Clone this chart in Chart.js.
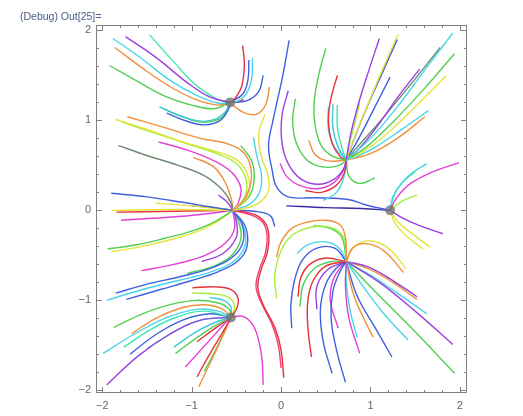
<!DOCTYPE html>
<html>
<head>
<meta charset="utf-8">
<script src="https://cdn.jsdelivr.net/npm/chart.js@4/dist/chart.umd.min.js"></script>
<style>
  html, body { margin: 0; padding: 0; background: #fff; }
  #wrap { width: 523px; height: 416px; }
</style>
</head>
<body>
<div id="wrap"><canvas id="myChart1"></canvas></div>
<script>
// stream lines, grouped by the point they run into
const toA = [
    [[-1.74,1.93],[-1.40,1.70],[-1.05,1.42],[-0.80,1.26],[-0.57,1.20]],
    [[-1.47,1.95],[-1.20,1.65],[-0.95,1.39],[-0.72,1.24],[-0.57,1.20]],
    [[-1.88,1.91],[-1.55,1.68],[-1.25,1.45],[-0.95,1.28],[-0.70,1.19],[-0.57,1.20]],
    [[-1.86,1.81],[-1.55,1.58],[-1.25,1.38],[-0.95,1.23],[-0.70,1.17],[-0.57,1.20]],
    [[-1.92,1.61],[-1.60,1.43],[-1.30,1.27],[-1.00,1.17],[-0.75,1.13],[-0.57,1.20]],
    [[-1.36,1.15],[-1.15,1.06],[-0.90,0.99],[-0.72,1.02],[-0.62,1.10],[-0.57,1.20]],
    [[-1.28,1.08],[-1.05,0.99],[-0.85,0.95],[-0.68,1.00],[-0.59,1.12],[-0.57,1.20]],
    [[-1.32,1.13],[-1.10,1.04],[-0.88,0.98],[-0.70,1.01],[-0.60,1.11],[-0.57,1.20]],
    [[-0.43,1.83],[-0.41,1.62],[-0.44,1.38],[-0.51,1.25],[-0.57,1.20]],
    [[-0.32,1.69],[-0.33,1.45],[-0.40,1.28],[-0.50,1.21],[-0.57,1.20]],
    [[-0.36,1.67],[-0.37,1.45],[-0.43,1.29],[-0.57,1.20]],
    [[-0.20,1.50],[-0.25,1.32],[-0.38,1.22],[-0.57,1.20]],
    [[-0.13,1.37],[-0.17,1.18],[-0.27,1.07],[-0.40,1.08],[-0.50,1.14],[-0.57,1.20]],
    [[-0.42,1.23],[-0.50,1.20],[-0.57,1.20]]
];
const toAColors = ['purple','aqua','cyan','orange','green','teal','blue','green',
    'red','cyan','blue','blue','orange','red'];

const toB = [
    [[1.10,1.91],[0.98,1.55],[0.87,1.20],[0.78,0.85],[0.73,0.56]],
    [[1.31,1.96],[1.15,1.60],[0.98,1.20],[0.83,0.83],[0.73,0.56]],
    [[1.30,1.90],[1.12,1.50],[0.95,1.12],[0.82,0.80],[0.73,0.56]],
    [[1.92,1.97],[1.60,1.55],[1.30,1.15],[1.00,0.80],[0.73,0.56]],
    [[1.94,1.74],[1.60,1.35],[1.25,0.98],[0.95,0.70],[0.73,0.56]],
    [[1.55,1.57],[1.30,1.25],[1.05,0.90],[0.85,0.66],[0.73,0.56]],
    [[1.78,1.81],[1.45,1.40],[1.10,0.98],[0.85,0.70],[0.73,0.56]],
    [[1.85,1.50],[1.50,1.15],[1.15,0.82],[0.90,0.64],[0.73,0.56]],
    [[1.65,1.11],[1.35,0.90],[1.05,0.70],[0.85,0.60],[0.73,0.56]],
    [[1.61,1.04],[1.30,0.80],[1.00,0.63],[0.73,0.56]],
    [[1.22,1.48],[1.05,1.15],[0.88,0.82],[0.73,0.56]],
    [[0.88,1.20],[0.82,0.95],[0.76,0.72],[0.73,0.56]],
    [[0.50,1.80],[0.42,1.50],[0.37,1.20],[0.38,0.95],[0.45,0.72],[0.58,0.60],[0.73,0.56]],
    [[0.63,1.50],[0.56,1.25],[0.53,1.00],[0.57,0.75],[0.66,0.60],[0.73,0.56]],
    [[0.53,1.15],[0.53,0.90],[0.60,0.70],[0.73,0.56]],
    [[0.58,1.18],[0.58,0.92],[0.64,0.70],[0.73,0.56]],
    [[0.63,1.17],[0.63,0.92],[0.68,0.70],[0.73,0.56]],
    [[0.08,1.33],[0.01,1.05],[0.01,0.75],[0.08,0.52],[0.22,0.35],[0.42,0.29],[0.60,0.35],[0.70,0.46],[0.73,0.56]],
    [[-0.01,0.52],[0.06,0.38],[0.20,0.28],[0.40,0.24],[0.58,0.30],[0.69,0.43],[0.73,0.56]],
    [[0.16,1.24],[0.13,1.00],[0.17,0.75],[0.30,0.55],[0.50,0.48],[0.65,0.50],[0.73,0.56]],
    [[0.31,0.78],[0.38,0.62],[0.52,0.55],[0.73,0.56]],
    [[0.27,0.22],[0.45,0.20],[0.62,0.28],[0.71,0.42],[0.73,0.56]],
    [[0.47,0.11],[0.62,0.20],[0.70,0.36],[0.73,0.56]],
    [[1.05,0.36],[0.88,0.30],[0.76,0.38],[0.73,0.56]]
];
const toBColors = ['purple','yellow','blue','cyan','green','purple','gray','yellow',
    'cyan','orange','blue','lime','green','red','cyan','teal','aqua','purple',
    'magenta','green','orange','red','cyan','green'];

const toC = [
    [[-1.72,1.04],[-1.30,0.92],[-0.90,0.80],[-0.60,0.74],[-0.40,0.62],[-0.33,0.40],[-0.38,0.18],[-0.47,0.05],[-0.54,0]],
    [[-1.85,1.01],[-1.50,0.90],[-1.10,0.76],[-0.75,0.66],[-0.48,0.55],[-0.36,0.35],[-0.38,0.15],[-0.54,0]],
    [[-1.78,0.98],[-1.45,0.87],[-1.05,0.74],[-0.72,0.63],[-0.50,0.52],[-0.39,0.34],[-0.41,0.14],[-0.54,0]],
    [[-1.37,0.76],[-1.05,0.67],[-0.75,0.55],[-0.55,0.42],[-0.45,0.25],[-0.48,0.08],[-0.54,0]],
    [[-1.82,0.72],[-1.50,0.61],[-1.15,0.50],[-0.85,0.38],[-0.65,0.22],[-0.56,0.08],[-0.54,0]],
    [[-0.98,0.59],[-0.75,0.48],[-0.62,0.30],[-0.55,0.10],[-0.54,0]],
    [[-0.70,0.17],[-0.60,0.09],[-0.54,0]],
    [[-0.18,1.07],[-0.25,0.85],[-0.22,0.60],[-0.15,0.40],[-0.14,0.22],[-0.25,0.08],[-0.42,0.02],[-0.54,0]],
    [[-0.31,0.81],[-0.27,0.60],[-0.22,0.40],[-0.24,0.20],[-0.35,0.07],[-0.54,0]],
    [[-0.45,0.72],[-0.33,0.55],[-0.30,0.35],[-0.36,0.15],[-0.54,0]],
    [[-1.90,0.19],[-1.50,0.15],[-1.10,0.09],[-0.80,0.04],[-0.54,0]],
    [[-1.40,0.08],[-1.00,0.05],[-0.54,0]],
    [[-1.00,0.05],[-0.75,0.03],[-0.54,0]],
    [[-1.90,0.00],[-1.20,0.01],[-0.54,0]],
    [[-1.84,-0.02],[-1.20,-0.01],[-0.54,0]],
    [[-1.79,-0.11],[-1.30,-0.08],[-0.85,-0.04],[-0.54,0]],
    [[-1.94,-0.43],[-1.60,-0.38],[-1.30,-0.31],[-1.00,-0.23],[-0.75,-0.13],[-0.54,0]],
    [[-1.90,-0.46],[-1.55,-0.40],[-1.25,-0.33],[-0.95,-0.24],[-0.72,-0.13],[-0.54,0]],
    [[-1.56,-0.67],[-1.20,-0.60],[-0.85,-0.50],[-0.62,-0.36],[-0.52,-0.20],[-0.54,0]],
    [[-0.89,-0.57],[-0.65,-0.48],[-0.50,-0.30],[-0.50,-0.12],[-0.54,0]],
    [[-1.85,-0.92],[-1.50,-0.82],[-1.10,-0.73],[-0.75,-0.63],[-0.52,-0.50],[-0.42,-0.33],[-0.44,-0.15],[-0.54,0]],
    [[-1.95,-1.00],[-1.55,-0.88],[-1.15,-0.78],[-0.80,-0.69],[-0.52,-0.56],[-0.40,-0.38],[-0.42,-0.18],[-0.54,0]],
    [[-1.73,-0.99],[-1.35,-0.88],[-1.00,-0.78],[-0.70,-0.68],[-0.48,-0.56],[-0.38,-0.40],[-0.40,-0.18],[-0.54,0]],
    [[-1.05,-0.70],[-0.75,-0.62],[-0.55,-0.50],[-0.45,-0.32],[-0.47,-0.14],[-0.54,0]],
    [[0.03,-1.86],[0.00,-1.55],[-0.07,-1.30],[-0.20,-1.05],[-0.26,-0.85],[-0.22,-0.65],[-0.15,-0.45],[-0.15,-0.20],[-0.25,-0.07],[-0.40,-0.02],[-0.54,0]],
    [[0.00,-1.75],[-0.03,-1.50],[-0.10,-1.27],[-0.22,-1.03],[-0.28,-0.85],[-0.24,-0.65],[-0.17,-0.45],[-0.17,-0.20],[-0.27,-0.08],[-0.54,0]],
    [[-0.07,-0.18],[-0.12,-0.06],[-0.30,-0.01],[-0.54,0]]
];
const toCColors = ['orange','yellow','lime','magenta','gray','orange','purple','yellow',
    'cyan','green','blue','yellow','gray','yellow','red','magenta','green','yellow',
    'magenta','purple','blue','cyan','blue','green','red','pink','blue'];

const toD = [
    [[0.09,1.89],[0.02,1.50],[-0.09,1.00],[-0.14,0.72],[-0.10,0.45],[-0.05,0.26],[0.08,0.15],[0.40,0.14],[0.75,0.12],[0.95,0.06],[1.22,0]],
    [[0.06,0.05],[0.50,0.03],[0.90,0.02],[1.22,0]],
    [[1.99,0.53],[1.70,0.43],[1.45,0.30],[1.30,0.15],[1.22,0]],
    [[1.63,0.52],[1.42,0.38],[1.28,0.20],[1.22,0]],
    [[1.50,0.43],[1.35,0.30],[1.25,0.15],[1.22,0]],
    [[1.52,0.17],[1.35,0.10],[1.22,0]],
    [[1.59,-0.43],[1.42,-0.30],[1.28,-0.15],[1.22,0]],
    [[1.67,-0.41],[1.48,-0.27],[1.30,-0.12],[1.22,0]],
    [[1.81,-0.26],[1.55,-0.17],[1.35,-0.08],[1.22,0]]
];
const toDColors = ['blue','indigo','magenta','cyan','aqua','lime','yellow','yellow','purple'];

const toE = [
    [[-0.05,-0.52],[0.00,-0.35],[0.12,-0.20],[0.30,-0.13],[0.50,-0.11],[0.66,-0.16],[0.72,-0.30],[0.73,-0.57]],
    [[-0.05,-0.98],[-0.07,-0.72],[0.00,-0.45],[0.12,-0.28],[0.32,-0.19],[0.55,-0.19],[0.70,-0.30],[0.73,-0.57]],
    [[0.36,-0.17],[0.55,-0.20],[0.68,-0.30],[0.73,-0.57]],
    [[0.12,-1.31],[0.11,-1.05],[0.15,-0.78],[0.24,-0.55],[0.40,-0.42],[0.60,-0.42],[0.73,-0.57]],
    [[0.18,-0.48],[0.30,-0.38],[0.50,-0.35],[0.65,-0.42],[0.73,-0.57]],
    [[0.19,-0.96],[0.22,-0.75],[0.32,-0.60],[0.50,-0.53],[0.73,-0.57]],
    [[0.34,-1.63],[0.30,-1.30],[0.30,-1.00],[0.36,-0.78],[0.50,-0.62],[0.73,-0.57]],
    [[0.57,-1.81],[0.47,-1.45],[0.44,-1.10],[0.50,-0.82],[0.62,-0.64],[0.73,-0.57]],
    [[0.72,-1.91],[0.62,-1.55],[0.56,-1.20],[0.58,-0.90],[0.66,-0.68],[0.73,-0.57]],
    [[0.88,-1.59],[0.76,-1.20],[0.72,-0.85],[0.73,-0.57]],
    [[0.85,-1.41],[0.77,-1.10],[0.73,-0.80],[0.73,-0.57]],
    [[1.03,-1.41],[0.90,-1.15],[0.80,-0.90],[0.73,-0.57]],
    [[1.24,-1.63],[1.05,-1.30],[0.85,-0.95],[0.73,-0.57]],
    [[1.42,-1.44],[1.15,-1.15],[0.90,-0.82],[0.73,-0.57]],
    [[1.94,-1.81],[1.50,-1.35],[1.05,-0.90],[0.73,-0.57]],
    [[1.92,-1.49],[1.50,-1.12],[1.10,-0.80],[0.73,-0.57]],
    [[1.63,-1.15],[1.30,-0.92],[1.00,-0.72],[0.73,-0.57]],
    [[1.52,-0.96],[1.25,-0.78],[0.98,-0.63],[0.73,-0.57]],
    [[1.52,-0.99],[1.25,-0.80],[0.98,-0.65],[0.73,-0.57]],
    [[1.37,-0.69],[1.15,-0.45],[0.95,-0.37],[0.80,-0.42],[0.73,-0.57]],
    [[1.40,-0.65],[1.20,-0.42],[1.00,-0.34],[0.82,-0.40],[0.73,-0.57]],
    [[0.64,-1.31],[0.55,-1.00],[0.58,-0.78],[0.66,-0.64],[0.73,-0.57]],
    [[0.40,-1.10],[0.40,-0.85],[0.52,-0.66],[0.73,-0.57]],
    [[0.21,-1.07],[0.25,-0.82],[0.38,-0.64],[0.56,-0.57],[0.73,-0.57]]
];
const toEColors = ['orange','lime','green','blue','cyan','red','red','blue','blue',
    'magenta','cyan','orange','blue','cyan','green','purple','cyan','purple','orange',
    'orange','yellow','magenta','purple','green'];

const toF = [
    [[-0.99,-0.86],[-0.75,-0.85],[-0.56,-0.88],[-0.48,-0.98],[-0.50,-1.10],[-0.56,-1.19]],
    [[-1.87,-1.30],[-1.55,-1.15],[-1.25,-1.05],[-0.95,-1.00],[-0.70,-1.03],[-0.58,-1.10],[-0.56,-1.19]],
    [[-1.67,-1.37],[-1.40,-1.20],[-1.10,-1.08],[-0.85,-1.05],[-0.65,-1.10],[-0.56,-1.19]],
    [[-1.99,-1.59],[-1.65,-1.38],[-1.30,-1.20],[-0.95,-1.10],[-0.70,-1.12],[-0.56,-1.19]],
    [[-1.76,-1.52],[-1.45,-1.32],[-1.15,-1.18],[-0.85,-1.12],[-0.56,-1.19]],
    [[-1.69,-1.60],[-1.40,-1.38],[-1.10,-1.22],[-0.80,-1.15],[-0.56,-1.19]],
    [[-1.95,-1.94],[-1.60,-1.62],[-1.25,-1.38],[-0.90,-1.22],[-0.56,-1.19]],
    [[-1.50,-1.54],[-1.20,-1.35],[-0.90,-1.22],[-0.56,-1.19]],
    [[-1.20,-1.52],[-0.95,-1.35],[-0.70,-1.23],[-0.56,-1.19]],
    [[-1.18,-1.59],[-0.92,-1.40],[-0.70,-1.26],[-0.56,-1.19]],
    [[-1.07,-1.74],[-0.85,-1.50],[-0.65,-1.28],[-0.56,-1.19]],
    [[-0.94,-1.46],[-0.75,-1.32],[-0.56,-1.19]],
    [[-0.94,-1.85],[-0.80,-1.60],[-0.65,-1.35],[-0.56,-1.19]],
    [[-0.92,-1.96],[-0.77,-1.65],[-0.63,-1.35],[-0.56,-1.19]],
    [[-0.86,-1.79],[-0.73,-1.55],[-0.62,-1.32],[-0.56,-1.19]],
    [[-0.20,-1.94],[-0.22,-1.60],[-0.30,-1.30],[-0.42,-1.18],[-0.56,-1.19]],
    [[-1.00,-0.92],[-0.75,-0.93],[-0.58,-0.97],[-0.52,-1.08],[-0.56,-1.19]],
    [[-0.80,-0.97],[-0.64,-1.00],[-0.56,-1.08],[-0.56,-1.19]]
];
const toFColors = ['red','green','orange','cyan','aqua','blue','purple','cyan','teal',
    'green','magenta','red','red','orange','green','magenta','lime','teal'];

// marked fixed points (gray dots)
const dotX = [-0.57, 1.22, -0.56];
const dotY = [1.20, 0.00, -1.19];

const tickValues = [-2, -1, 0, 1, 2];

const palette = {
    purple: '#9a40e0', aqua: '#3fe6b4', cyan: '#48d6e6', orange: '#f0903c',
    green: '#52cf52', yellow: '#e4e43a', red: '#e8303c', blue: '#4060e0',
    magenta: '#e040d6', lime: '#a6ee3a', teal: '#40c6d6', pink: '#f0407c',
    gray: '#6f8a72', indigo: '#3a2aa0'
};

const datasets = [];
function addGroup(curves, colors) {
    curves.forEach((c, i) => {
        datasets.push({
            data: c.map(p => ({x: p[0], y: p[1]})),
            showLine: true,
            borderColor: palette[colors[i]],
            borderWidth: 1.4,
            pointRadius: 0,
            tension: 0.4,
            fill: false
        });
    });
}
addGroup(toA, toAColors);
addGroup(toB, toBColors);
addGroup(toC, toCColors);
addGroup(toD, toDColors);
addGroup(toE, toEColors);
addGroup(toF, toFColors);

datasets.push({
    data: dotX.map((x, i) => ({x: x, y: dotY[i]})),
    showLine: false,
    pointRadius: 5,
    pointBorderWidth: 0,
    backgroundColor: 'rgba(110,110,110,0.75)',
    order: -1
});

function minus(v) {
    return String(v).replace('-', '\u2212');
}

// Mathematica-style frame: box with inward ticks
const framePlugin = {
    id: 'frame',
    afterDatasetsDraw(chart) {
        const ctx = chart.ctx;
        const a = chart.chartArea;
        const xs = chart.scales.x, ys = chart.scales.y;
        ctx.save();
        ctx.strokeStyle = '#808080';
        ctx.lineWidth = 1;
        ctx.strokeRect(a.left + 0.5, a.top + 0.5, a.right - a.left - 1, a.bottom - a.top - 1);
        for (let k = -10; k <= 10; k++) {
            const v = k / 5;
            const len = (k % 5 === 0) ? 6 : 3;
            const px = Math.round(xs.getPixelForValue(v)) + 0.5;
            const py = Math.round(ys.getPixelForValue(v)) + 0.5;
            ctx.beginPath();
            ctx.moveTo(px, a.bottom); ctx.lineTo(px, a.bottom - len);
            ctx.moveTo(px, a.top); ctx.lineTo(px, a.top + len);
            ctx.moveTo(a.left, py); ctx.lineTo(a.left + len, py);
            ctx.moveTo(a.right, py); ctx.lineTo(a.right - len, py);
            ctx.stroke();
        }
        ctx.font = '10.5px "Liberation Sans", Arial, sans-serif';
        ctx.fillStyle = '#4a5a8c';
        ctx.textBaseline = 'alphabetic';
        ctx.fillText('(Debug) Out[25]=', 20, 20);
        ctx.restore();
    }
};

function createChart() {
    const ctx = document.getElementById('myChart1');
    window.myChart = new Chart(ctx, {
        type: 'scatter',
        data: { datasets: datasets },
        options: {
            responsive: true,
            maintainAspectRatio: false,
            animation: false,
            layout: { padding: { top: 25, right: 56, left: 0, bottom: 0 } },
            plugins: { legend: { display: false }, tooltip: { enabled: false } },
            scales: {
                x: {
                    type: 'linear', min: -2.07, max: 2.08,
                    grid: { display: false, drawTicks: false }, border: { display: false },
                    afterBuildTicks: s => { s.ticks = tickValues.map(v => ({value: v})); },
                    afterFit: s => { s.height = 23; },
                    ticks: {
                        padding: 6, color: '#666', maxRotation: 0,
                        font: { family: '"Liberation Sans", Arial, sans-serif', size: 11 },
                        callback: v => minus(v)
                    }
                },
                y: {
                    type: 'linear', min: -2.03, max: 2.06,
                    grid: { display: false, drawTicks: false }, border: { display: false },
                    afterBuildTicks: s => { s.ticks = tickValues.map(v => ({value: v})); },
                    afterFit: s => { s.width = 96; },
                    ticks: {
                        padding: 5, color: '#666',
                        font: { family: '"Liberation Sans", Arial, sans-serif', size: 11 },
                        callback: v => minus(v)
                    }
                }
            }
        },
        plugins: [framePlugin]
    });
}

createChart();
</script>
</body>
</html>
